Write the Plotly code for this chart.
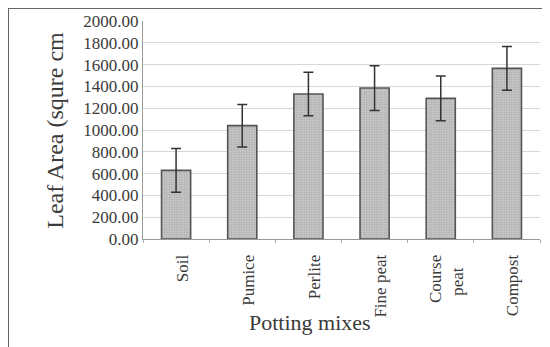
import plotly.graph_objects as go

categories = ["Soil", "Pumice", "Perlite", "Fine peat", "Course<br>peat\u00a0\u00a0\u00a0", "Compost"]
leaf_area = [630, 1040, 1330, 1385, 1290, 1565]
error = [200, 195, 200, 205, 205, 200]
y_ticks = [0, 200, 400, 600, 800, 1000, 1200, 1400, 1600, 1800, 2000]

FONT = "Liberation Serif, Times New Roman, serif"

fig = go.Figure()
fig.add_trace(go.Bar(
    x=categories, y=leaf_area,
    width=0.44,
    marker=dict(
        color="#c4c4c4",
        line=dict(color="#555555", width=1.6),
        pattern=dict(shape=".", fgcolor="#8a8a8a", bgcolor="#c8c8c8", size=2.5, solidity=0.4),
    ),
    error_y=dict(type="data", array=error, visible=True, color="#333333", thickness=1.5, width=5),
))

fig.update_layout(
    width=542, height=339,
    margin=dict(l=135, r=10, t=13, b=108),
    paper_bgcolor="white", plot_bgcolor="white",
    showlegend=False,
    font=dict(family=FONT, color="#3a3a3a"),
    xaxis=dict(
        automargin=False,
        tickangle=-90, tickfont=dict(size=17, family=FONT, color="#3a3a3a"),
        showline=True, linecolor="#999999", linewidth=1,
        ticks="outside", tickson="boundaries", ticklen=3, tickcolor="#aaaaaa",
        ticklabelstandoff=8, ticklabelshift=6,
        showgrid=False,
    ),
    yaxis=dict(
        automargin=False,
        range=[0, 2000], tickvals=y_ticks, tickformat=".2f",
        tickfont=dict(size=17, family=FONT, color="#3a3a3a"),
        showline=True, linecolor="#999999", linewidth=1,
        showgrid=True, gridcolor="#d8d8d8", gridwidth=1,
        zeroline=False, ticks="", ticklabelstandoff=0,
    ),
    annotations=[
        dict(text="Potting mixes", xref="paper", yref="paper", x=0.42, y=-0.45,
             showarrow=False, font=dict(size=22, family=FONT, color="#3a3a3a")),
        dict(text="Leaf Area (squre cm", xref="paper", yref="paper", x=-0.26, y=0.5,
             textangle=-90, showarrow=False, font=dict(size=24, family=FONT, color="#3a3a3a")),
    ],
    shapes=[
        dict(type="line", xref="paper", yref="y", x0=0, x1=1, y0=2000, y1=2000,
             line=dict(color="white", width=2), layer="between"),
        dict(type="rect", xref="paper", yref="paper", x0=-0.340, x1=1.015, y0=-0.52, y1=1.06,
             line=dict(color="#666666", width=2), layer="below"),
    ],
)

fig.write_html("out.html")
